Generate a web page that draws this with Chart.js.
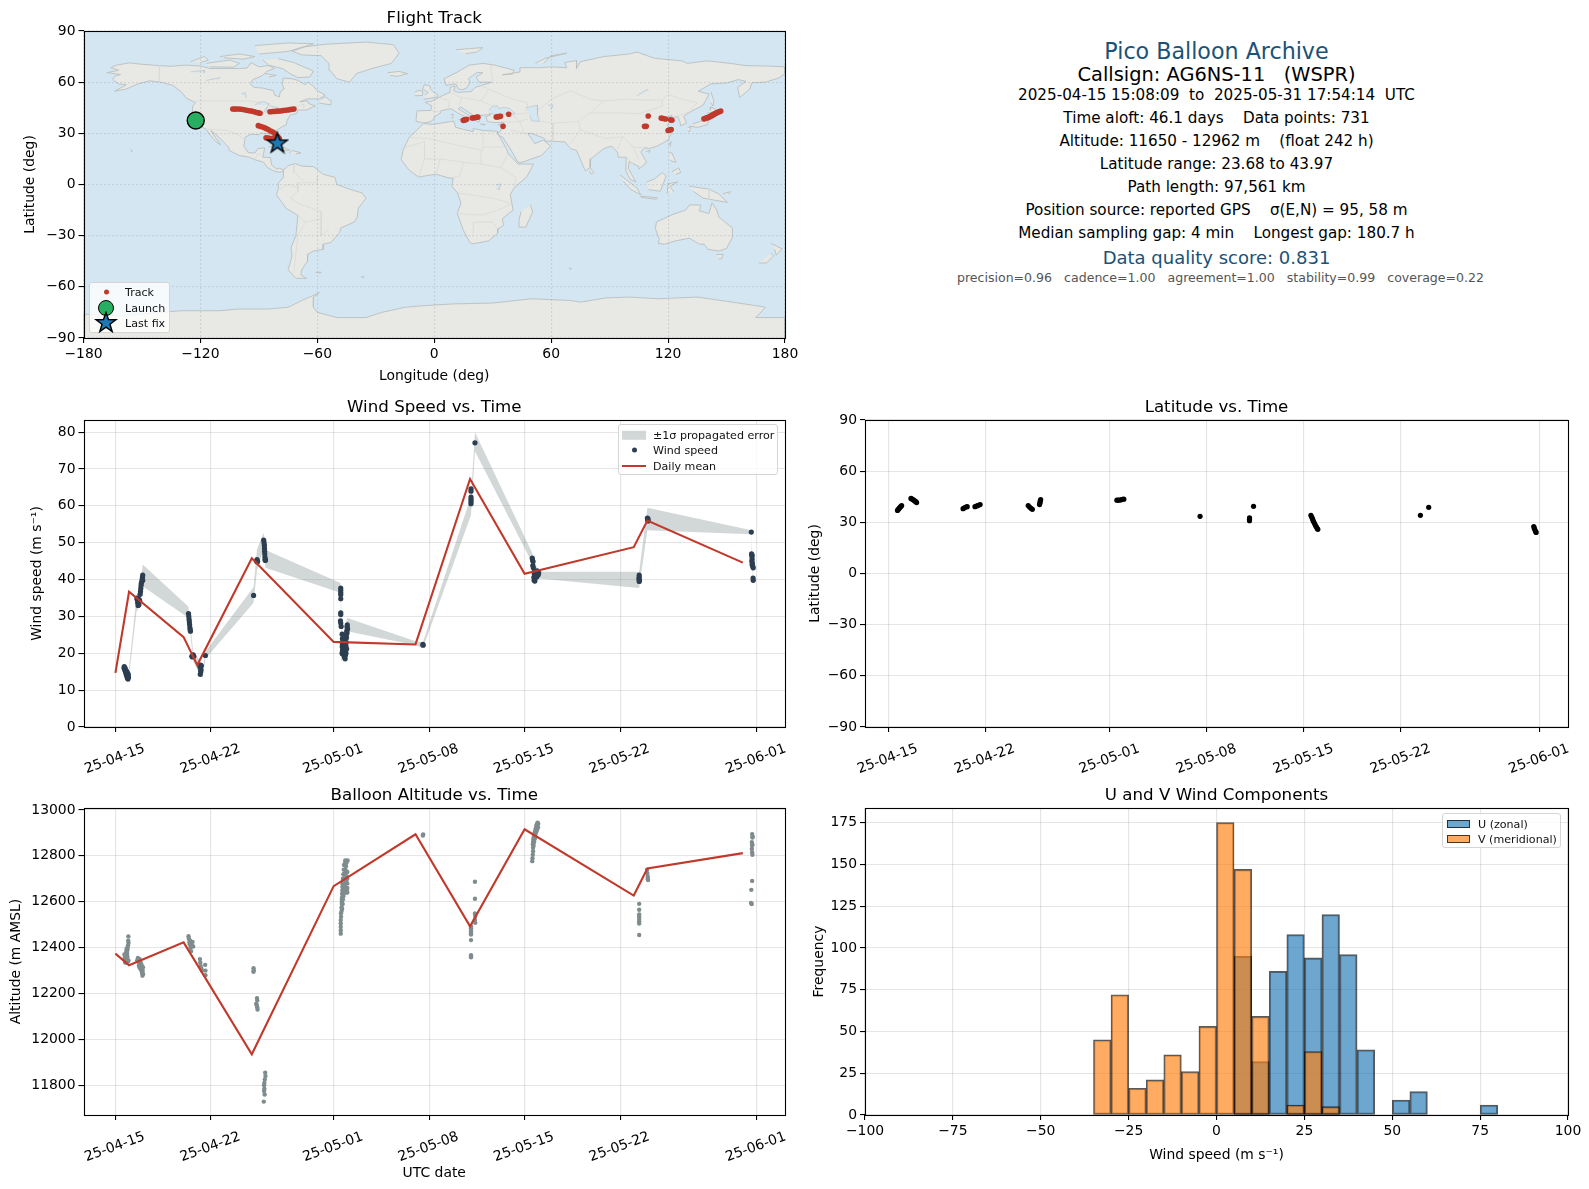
<!DOCTYPE html>
<html>
<head>
<meta charset="utf-8">
<title>Pico Balloon Archive</title>
<script src="https://cdn.jsdelivr.net/npm/chart.js@4"></script>
<style>
  body { margin: 0; background: #fff; font-family: "DejaVu Sans", sans-serif; }
  #page { position: relative; width: 1589px; height: 1189px; overflow: hidden; }
  canvas { position: absolute; display: block; }
  .info { position: absolute; left: 865px; width: 703px; text-align: center; white-space: pre; transform: translateY(-50%); }
  .legend { position: absolute; box-sizing: border-box; background: rgba(255,255,255,0.8); border: 1px solid #d5d5d5; border-radius: 3px; font-size: 11.1px; color: #111; }
  .legend div { position: absolute; white-space: pre; transform: translateY(-50%); }
</style>
</head>
<body>
<div id="page"></div>
<script>
// x values on the time panels are days since 2025-04-15 00:00 UTC
const dateTicks = [0, 7, 16, 23, 30, 37, 47];
const dateLabels = ['25-04-15', '25-04-22', '25-05-01', '25-05-08', '25-05-15', '25-05-22', '25-06-01'];

const lonTicks = [-180, -120, -60, 0, 60, 120, 180];
const latTicks = [-90, -60, -30, 0, 30, 60, 90];
const windTicks = [0, 10, 20, 30, 40, 50, 60, 70, 80];
const altTicks = [11800, 12000, 12200, 12400, 12600, 12800, 13000];
const histXTicks = [-100, -75, -50, -25, 0, 25, 50, 75, 100];
const histYTicks = [0, 25, 50, 75, 100, 125, 150, 175];

const meanDays = [0, 1, 5, 6, 10, 16, 22, 26, 30, 38, 39, 46];
const windMean = [14.7, 36.7, 24.4, 16.8, 45.8, 23.1, 22.4, 67.3, 41.6, 48.8, 56, 44.6];
const altMeanDays = [0, 1, 5, 10, 16, 22, 26, 30, 38, 39, 46];
const altMean = [12374, 12323, 12423, 11935, 12668, 12894, 12493, 12916, 12627, 12745, 12812];

// day, upper, lower of the 1 sigma band
const windBand = [
  [0.63, 16.8, 15.6], [0.95, 14.5, 12.3], [1.55, 35.5, 31.5], [1.6, 36, 31.5], [1.87, 40, 34], [2, 44.1, 38.2],
  [5.36, 32.6, 29.6], [5.5, 27.5, 25], [5.7, 20.5, 18], [6.2, 18, 14], [6.4, 16, 13.3], [6.6, 20.5, 18.5],
  [10.13, 38, 33.7], [10.38, 48.2, 42.5], [10.87, 52.7, 48.5], [11, 48, 43.2], [16.5, 39.1, 36.4], [16.55, 33, 25],
  [16.6, 24, 18], [17, 29.6, 26], [22, 23.3, 22.2], [22.54, 22.9, 21.4], [26.07, 62.6, 57.5], [26.36, 80, 74.8],
  [30.56, 47.2, 44.5], [30.7, 45, 38.5], [31.05, 42.1, 40.3], [38.4, 42.1, 37.7], [39, 59.5, 53.4],
  [46.62, 53.4, 52.3], [46.65, 48, 45.5], [46.77, 44, 39]
];

const windPoints = [
  [.63, 16], [.65, 16.4], [.68, 15.8], [.7, 15.3], [.72, 15.9], [.75, 15], [.78, 14.6], [.8, 14.2], [.83, 14.5], [.85, 13.8],
  [.87, 13.4], [.89, 13.9], [.9, 13.2], [.92, 13], [.94, 13.4], [.95, 13.6], [.9, 14.6], [.94, 14.2], [.82, 15.2],
  [1.57, 35], [1.6, 34.5], [1.63, 33.8], [1.66, 33], [1.69, 33.4], [1.72, 34], [1.75, 34.5], [1.78, 34.2], [1.81, 36], [1.84, 36.8],
  [1.86, 37.6], [1.88, 38.4], [1.9, 39], [1.93, 39.4], [1.96, 40], [1.98, 40.6], [2, 41.2], [2, 39.8], [1.66, 34.8], [1.72, 33.2],
  [5.36, 30.8], [5.38, 30], [5.4, 29.2], [5.42, 28.5], [5.44, 27.8], [5.46, 27], [5.48, 26.4], [5.5, 26],
  [5.6, 19.2], [5.65, 19], [5.7, 19.6], [5.75, 19.2],
  [6.2, 16.3], [6.25, 16.8], [6.3, 16.6], [6.27, 15.5], [6.25, 15], [6.22, 14.3], [6.6, 19.4],
  [10.13, 35.7], [10.35, 45], [10.38, 45.4], [10.42, 45], [10.4, 44.8],
  [10.87, 50.7], [10.9, 50], [10.92, 49.3], [10.93, 48.5], [10.94, 47.7], [10.95, 47], [10.96, 46.2], [10.97, 45.5], [10.99, 45.2], [11, 45.4],
  [16.52, 37.7], [16.52, 37.1], [16.52, 36.4], [16.52, 35.9], [16.52, 34.8], [16.52, 31], [16.52, 30.5], [16.5, 28.8], [16.52, 28.2], [16.55, 27.3],
  [16.62, 25.2], [16.64, 24], [16.62, 23], [16.65, 22.4], [16.63, 21.8], [16.66, 21], [16.64, 20.4], [16.62, 20], [16.66, 19.8],
  [16.7, 22.5], [16.72, 21.6], [16.74, 20.8], [16.72, 20.2], [16.78, 19.5], [16.8, 18.9], [16.84, 18.5], [16.86, 19.5], [16.88, 20.6],
  [16.9, 22], [16.92, 23], [16.94, 24.2], [16.93, 25], [16.96, 26], [16.98, 27.2], [17, 27.7], [17.02, 26.6], [16.98, 25.5], [16.86, 24],
  [16.8, 21.5], [16.84, 22.6], [16.76, 23.4], [16.9, 20], [16.95, 21.2],
  [22.54, 22.4], [22.56, 22.2],
  [26.07, 64.6], [26.07, 64], [26.07, 62.4], [26.07, 61.8], [26.07, 61.2], [26.07, 60.6], [26.36, 77.1],
  [30.56, 45.8], [30.58, 45.3], [30.62, 44.9], [30.6, 43.8], [30.64, 43.2], [30.7, 42], [30.72, 41.4], [30.74, 40.8], [30.76, 40.2], [30.7, 39.8],
  [30.68, 40.6], [30.8, 41.2], [30.84, 42], [30.88, 41.6], [30.92, 42.4], [30.96, 41.5], [31, 41.3], [31.03, 41.8], [30.75, 39.6], [30.9, 40.8],
  [38.4, 41.2], [38.4, 40.6], [38.38, 40.2], [38.42, 39.8], [38.4, 39.5],
  [39, 56.7], [39.02, 56.2], [39.05, 56.5], [39.06, 55.9], [46.62, 52.9],
  [46.64, 47], [46.66, 46.4], [46.68, 46.6], [46.68, 45.6], [46.66, 45], [46.7, 44.4], [46.68, 44], [46.72, 43.6], [46.76, 43.2], [46.75, 40.4], [46.76, 39.8]
];

const altPoints = [
  [.66, 12370], [.68, 12355], [.7, 12345], [.72, 12335], [.74, 12360], [.76, 12375], [.78, 12340], [.8, 12385], [.82, 12395], [.84, 12335],
  [.86, 12375], [.88, 12390], [.9, 12400], [.92, 12410], [.94, 12430], [.95, 12449], [.96, 12420], [.95, 12345], [.93, 12340], [.72, 12365], [.8, 12350], [.88, 12360],
  [1.6, 12345], [1.65, 12355], [1.7, 12340], [1.72, 12320], [1.75, 12330], [1.78, 12350], [1.8, 12310], [1.85, 12335], [1.9, 12300],
  [1.92, 12325], [1.95, 12290], [1.98, 12278], [2, 12300], [2.03, 12285], [2.02, 12315], [1.72, 12345], [1.85, 12315],
  [5.36, 12450], [5.38, 12440], [5.42, 12425], [5.45, 12415], [5.48, 12430], [5.5, 12400], [5.55, 12385], [5.6, 12410], [5.65, 12425], [5.7, 12405],
  [6.2, 12350], [6.22, 12335], [6.25, 12320], [6.3, 12310], [6.35, 12300], [6.6, 12280], [6.6, 12300], [6.58, 12325],
  [10.13, 12310], [10.14, 12300], [10.12, 12295],
  [10.38, 12180], [10.4, 12170], [10.32, 12155], [10.36, 12150], [10.4, 12140], [10.42, 12130],
  [10.98, 11855], [11, 11840], [10.95, 11825], [10.92, 11810], [10.9, 11800], [10.92, 11785], [10.9, 11775], [10.94, 11760], [10.88, 11729],
  [16.52, 12461], [16.52, 12475], [16.52, 12490], [16.52, 12505], [16.52, 12520], [16.54, 12535], [16.54, 12550],
  [16.58, 12560], [16.58, 12575], [16.6, 12590], [16.6, 12600], [16.6, 12610], [16.62, 12620], [16.62, 12635], [16.64, 12650], [16.64, 12665], [16.64, 12680],
  [16.7, 12640], [16.7, 12660], [16.7, 12680], [16.72, 12700], [16.74, 12720], [16.74, 12740], [16.76, 12760], [16.85, 12770], [16.85, 12780],
  [16.9, 12640], [16.9, 12660], [16.9, 12700], [16.9, 12730], [17, 12640], [17, 12660], [17, 12680], [17, 12700], [17.02, 12780], [17, 12730],
  [16.62, 12570], [16.66, 12590], [16.68, 12610], [16.72, 12625], [16.76, 12640], [16.8, 12650], [16.84, 12665], [16.88, 12680], [16.92, 12690], [16.96, 12710],
  [16.68, 12700], [16.72, 12720], [16.78, 12700], [16.82, 12720], [16.86, 12740], [16.9, 12755], [16.94, 12770], [16.8, 12680], [16.76, 12660], [16.96, 12650],
  [22.54, 12889], [22.56, 12893],
  [26.07, 12493], [26.07, 12485], [26.07, 12477], [26.07, 12470], [26.07, 12462], [26.07, 12457], [26.07, 12433], [26.07, 12367], [26.07, 12358],
  [26.36, 12687], [26.36, 12613], [26.36, 12549], [26.38, 12538], [26.36, 12522], [26.38, 12508],
  [30.56, 12777], [30.58, 12790], [30.6, 12805], [30.62, 12820], [30.62, 12835], [30.6, 12850], [30.62, 12860], [30.64, 12870], [30.66, 12880], [30.7, 12890],
  [30.74, 12900], [30.78, 12910], [30.82, 12920], [30.86, 12930], [30.9, 12938], [30.95, 12945], [31, 12940], [30.98, 12925], [30.75, 12875], [30.8, 12895],
  [30.7, 12860], [30.66, 12845], [30.78, 12885], [30.86, 12905], [30.92, 12915],
  [38.4, 12591], [38.4, 12565], [38.4, 12545], [38.4, 12535], [38.4, 12525], [38.4, 12515], [38.4, 12505], [38.4, 12455],
  [38.98, 12740], [39, 12725], [39.03, 12710], [39.05, 12695], [39.02, 12700],
  [46.68, 12895], [46.7, 12880], [46.72, 12885], [46.66, 12860], [46.68, 12845], [46.7, 12850], [46.66, 12830], [46.68, 12815], [46.7, 12805],
  [46.68, 12691], [46.62, 12652], [46.6, 12595], [46.65, 12590]
];

const latPoints = [
  [.67, 37], [.72, 37.5], [.77, 38], [.82, 38.5], [.87, 39], [.92, 39.4], [.97, 39.8],
  [1.64, 44], [1.7, 43.8], [1.76, 43.4], [1.82, 43.2], [1.88, 42.8], [1.94, 42.4], [2, 42], [2.05, 41.6],
  [5.4, 38], [5.5, 38.5], [5.6, 39], [5.7, 39.2], [6.26, 39.2], [6.4, 39.6], [6.5, 40], [6.63, 40.4],
  [10.1, 39.8], [10.2, 39], [10.3, 38.2], [10.4, 37.6],
  [10.92, 40.4], [10.94, 41.2], [10.96, 42], [10.98, 42.8], [11, 43.4],
  [16.5, 43], [16.6, 43], [16.7, 43.1], [16.8, 43.2], [16.9, 43.5], [17, 43.6],
  [22.5, 33.5], [26.07, 32.6], [26.07, 31.8], [26.07, 31], [26.36, 39.4],
  [30.5, 34.1], [30.56, 33], [30.62, 32], [30.66, 31], [30.72, 30], [30.78, 29], [30.84, 28], [30.9, 27.2], [30.96, 26.4], [31, 25.9],
  [38.4, 34.1], [39, 38.8],
  [46.58, 27.5], [46.62, 26.6], [46.66, 25.6], [46.72, 24.6], [46.75, 24.1]
];

const trackLon = [
  -103.4, -102.4, -101.4, -100.1, -98.8, -97.5, -96.2, -95, -93.7, -92.3, -91, -90.2, -89.4,
  -84.3, -83, -81.7, -80.4, -79.2, -77.9, -76.6, -75.3, -74, -73, -72,
  -90.3, -89, -87.7, -86.4, -85.2, -83.9, -82.6, -81.7, -80.9, -80.2, -79.5, -86.3, -85, -83.4, -82, -81,
  14.9, 15.2, 15.5, 16, 16.6, 19.5, 20.2, 21, 21.7, 22.4, 31.8, 32.4, 33, 33.5, 34, 38.2, 35.3,
  107.9, 108.8, 109.8, 116.5, 117.5, 118.7, 121.2, 122, 120, 120.6, 121.6,
  138.4, 139, 139.5, 140, 140.5, 141, 141.5, 142, 142.5, 143, 143.5, 144, 144.5, 145, 145.5, 146.2, 147
];
const trackLat = [
  44.3, 44.3, 44.3, 44.2, 44.1, 43.8, 43.5, 43.2, 43, 42.6, 42.2, 42, 41.8,
  42.7, 42.8, 42.9, 43, 43.1, 43.3, 43.5, 43.7, 43.9, 44.1, 44.3,
  34.5, 34, 33.5, 32.9, 32.2, 31.4, 30.6, 29.6, 28.6, 27.8, 27, 27.4, 27.2, 27, 26.8, 26.6,
  37.6, 37.7, 37.8, 38, 38.2, 39, 39.1, 39.2, 39.4, 39.5, 39.6, 39.7, 39.8, 39.9, 40, 41.2, 34.1,
  34.1, 34.1, 40.2, 38.9, 38.7, 38.4, 37.9, 37.7, 31.7, 31.9, 32.2,
  38.5, 38.7, 38.9, 39.1, 39.3, 39.6, 39.9, 40.2, 40.5, 40.8, 41.1, 41.5, 41.8, 42.1, 42.4, 42.7, 43
];
const launchLon = [-122.4];
const launchLat = [37.5];
const lastLon = [-80.5];
const lastLat = [24.1];

const histCenters = [-32.5, -27.5, -22.5, -17.5, -12.5, -7.5, -2.5, 2.5, 7.5, 12.5, 17.5, 22.5, 27.5, 32.5, 37.5, 42.5, 47.5, 52.5, 57.5, 62.5, 67.5, 72.5, 77.5];
const uCounts = [0, 0, 0, 0, 0, 0, 0, 0, 95, 32, 86, 108, 94, 120, 96, 39, 0, 9, 14, 0, 0, 0, 6];
const vCounts = [45, 72, 16, 21, 36, 26, 53, 175, 147, 59, 0, 6, 38, 5, 0, 0, 0, 0, 0, 0, 0, 0, 0];

// coarse coastlines as [lon, lat]
const northAmerica = [[-168,65.6],[-164,66.5],[-162,67],[-166,68.5],[-163,70],[-156.5,71.3],[-150,70.5],[-141,69.7],[-135,69.3],[-128,70],[-120,69.5],[-115,68],[-108,68],[-100,68],[-96,68.3],[-94,71.5],[-90,69],[-85,69.7],[-82,68],[-86,66.3],[-88,64],[-93,61.5],[-94.5,59],[-92.5,57],[-88,56.5],[-82.5,55],[-82,52.5],[-79.5,51.3],[-79,54.5],[-77,56],[-78,58.5],[-77.5,62.4],[-73,62],[-70,61],[-66,58.5],[-65,60.2],[-62,57.5],[-60,55],[-56,52.5],[-59,50.2],[-65,50.2],[-69,48.5],[-65,49],[-64.5,47.5],[-61,46],[-65.5,43.7],[-70,43.7],[-70.5,41.7],[-74,40.6],[-75.5,37.5],[-76,35],[-78,33.9],[-81,31.8],[-80,27],[-80.5,25.2],[-82,26.5],[-83,29],[-85,29.7],[-89,30.2],[-90,29.2],[-94,29.5],[-97,27.8],[-97.7,22.5],[-95.5,18.7],[-92,18.5],[-90.5,21],[-87,21.5],[-88,16],[-84,15.8],[-83.5,11.5],[-81,9],[-79.5,9.5],[-77.3,8.6],[-78,7.3],[-80.5,7.3],[-83,8.3],[-85.7,10],[-87.5,13],[-92,14.5],[-95,16],[-100,17],[-105,19.8],[-105.7,22],[-109,26],[-112.7,30],[-114.7,31.5],[-112,27],[-109.5,23.2],[-112,25],[-115,29],[-117.2,32.5],[-120.5,34.5],[-122.5,37.5],[-124.2,40.5],[-124,46],[-122.5,48],[-127,50.5],[-130,54.5],[-134,58],[-139.5,59.8],[-146,60.8],[-152,59],[-158,56],[-164,54.7],[-158,58.5],[-162,59],[-165,61.5],[-164,63.5],[-161,64.5],[-168,65.6]];
const southAmerica = [[-77.3,8.6],[-75,11],[-71.5,12.3],[-68,10.8],[-62,10.5],[-57,6],[-51,4.2],[-50,0],[-44,-2.5],[-37,-5],[-35,-8],[-39,-14],[-39.5,-19],[-41,-22],[-48,-25.5],[-48.5,-28],[-53,-34],[-57,-35],[-57,-38],[-62,-39],[-65,-41],[-65,-45],[-68,-50],[-68.5,-53],[-65.5,-55],[-71,-55],[-75,-50],[-73,-42],[-73.5,-37],[-71,-30],[-70,-18],[-76,-14],[-81,-6],[-80,-2.5],[-80,1],[-77.5,4],[-77.5,7.3],[-77.3,8.6]];
const greenland = [[-73,78.2],[-66,80.8],[-55,82.3],[-35,83.5],[-21,82],[-18,77],[-22,71],[-32,68],[-40,65],[-43.5,60],[-50,62],[-53.5,67],[-54,71],[-58,75.5],[-68,76],[-73,78.2]];
const africa = [[-5.5,35.8],[-1,35.2],[10,37.2],[11,33.5],[15,32.3],[20,31],[20,32.8],[25,31.7],[32.3,31.2],[32.5,30],[34,27],[37,21],[38,18],[43,12],[51,12],[47.5,4.5],[41,-2],[39,-6],[40.5,-15],[35,-20],[35.5,-24],[32.7,-26],[32.5,-28.5],[28,-33],[20,-34.8],[18.3,-34],[15,-27],[11.8,-17],[13.7,-11],[12,-5],[9,-1],[9.7,3.5],[6,4.3],[1,6],[-4,5.2],[-8,4.3],[-13,8.5],[-17,14.7],[-16,20],[-13,27.5],[-9.7,31],[-5.5,35.8]];
const eurasia = [[-5.5,36],[-9,37],[-9.3,38.7],[-8.8,43.2],[-1.8,43.4],[-1.2,46],[-4.7,48.3],[-1.5,48.7],[1.5,50.5],[4,52],[8,54],[8.2,57],[10.7,57.7],[10,55],[12,54],[19,54.5],[21,57],[24,58],[29.5,60],[23,60],[21.5,63],[25,65.5],[22,65.7],[17.5,62],[18.5,60],[16.5,56.5],[14,55.5],[12.5,56],[11,59],[6,58.2],[5,62],[12,66],[18,70],[25,71],[31,70],[41,67],[40,64.7],[35,64.3],[44,66],[44,68.5],[54,68.5],[60,69],[68,68.5],[67,71.5],[73,72.7],[73,68],[75,72],[81,73.5],[87,75],[100,76.5],[104,77.7],[113,74],[127,72.5],[130,71],[140,72.5],[152,71],[160,69.7],[170,69.5],[180,69],[180,65],[177,62.5],[170,60],[163,59.7],[162,56],[156.7,51],[155.7,57],[160,60.5],[156,61.5],[150,59.5],[142,59],[135.5,54.7],[141,53],[138,46.5],[132,43],[128,40],[129.5,36],[126.5,34.5],[126,37],[125,39.7],[121.5,39],[122,40.5],[118,39],[122,37.5],[119.5,35],[122,31],[120,26],[114,22.3],[110,21],[108,21.7],[106,19],[109,13],[105,9],[105,10.5],[100,13.5],[99.5,9.5],[103.5,1.5],[100.5,3],[98.3,8],[98.5,16],[94.5,16],[94,19],[91,22.5],[87,21],[80.3,15],[80,10],[77.5,8],[73,20],[70,21],[67,25],[57,25.5],[56.5,27],[50,30],[48,30],[51,25],[51.5,24],[56,26],[59.7,22.5],[55,17],[45,13],[43,13],[39,21],[35,28],[34.2,28],[32.5,30],[34,31.3],[35.9,36.5],[30.5,36.3],[27.3,37],[26.5,39.5],[29,41],[26,40.7],[23,40.5],[23.5,38],[22.7,36.5],[21,38],[19.5,41],[13.5,45.5],[12.3,44.5],[16,41.7],[18.5,40],[16.5,39],[15.7,38],[15.7,40],[12,42],[8.7,44.4],[3.5,43.3],[3,41.7],[0,39.7],[-0.5,38],[-2,36.8],[-5.5,36]];
const antarctica = [[-180,-90],[-180,-76],[-160,-77],[-150,-76],[-130,-74],[-110,-74],[-100,-73],[-85,-73],[-75,-72],[-68,-68],[-59,-63.5],[-62,-66],[-62,-72],[-60,-75],[-50,-78],[-35,-78],[-27,-75],[-15,-72],[-5,-71],[10,-70],[30,-69.5],[50,-67],[70,-68],[75,-69],[88,-66.5],[100,-66],[115,-67],[135,-66],[150,-68.5],[165,-71],[170,-72],[165,-78],[180,-78],[180,-90]];
const australia = [[114,-22],[113.5,-26],[115.5,-32],[115,-34.5],[118,-35],[124,-33],[131,-31.5],[136,-35],[138.5,-35],[140.5,-38],[146,-39],[150,-37.5],[153,-31],[153,-25.5],[146,-19],[145,-15],[142.5,-10.8],[141,-17],[136,-15.5],[136.8,-12],[131,-12],[129,-15],[122.5,-17.5],[114,-22]];
const islands = [
  [[-80,73.7],[-72,71.5],[-62,66.5],[-64,63],[-70,62.7],[-74,65],[-78,68],[-85,70],[-88,73]],
  [[-117,71],[-105,73],[-100,71],[-103,68.8],[-115,69]],
  [[-125,72],[-118,75],[-116,73],[-120,71.5]],
  [[-90,76.5],[-75,78],[-62,82.5],[-75,83],[-92,81.5]],
  [[-110,75],[-100,76.5],[-92,75],[-98,73.5],[-108,74.3]],
  [[-87,65],[-81,64],[-85,63]],
  [[-59,47.7],[-53,46.7],[-53,49],[-56,51.5],[-58,50]],
  [[-85,22],[-80,23.1],[-74.2,20.2],[-77.5,19.9],[-78,21]],
  [[-74.4,18.5],[-72.7,19.9],[-68.4,18.6],[-71,18]],
  [[-78.3,18.4],[-76.3,18.1],[-77,17.8]],
  [[-156,20.3],[-155,19.7],[-155.7,19]],
  [[-5.5,50],[1.5,51.2],[1.7,52.8],[-0.3,54],[-2,56],[-2,57.7],[-5,58.6],[-6,56],[-3,54],[-4.7,52.5]],
  [[-10,52],[-6,52.2],[-6,55],[-8.5,55],[-10,54]],
  [[-24,65.5],[-18,66.3],[-13.7,65],[-19,63.4],[-22.7,64]],
  [[11,79],[25,80.3],[22,77.7],[16,76.7]],
  [[52,71],[57,74],[68,77],[60,75.5],[56,71]],
  [[12.5,38],[15.5,38.2],[15,36.7]],
  [[8.3,41],[9.7,41],[9.5,39],[8.5,39]],
  [[23.5,35.5],[26.3,35.2],[24.5,34.9]],
  [[32.5,35],[34.5,35.6],[33.8,34.7]],
  [[130.9,34.3],[135,33.5],[140,35],[141.9,39.5],[141.3,41.4],[140,40.5],[139,38],[136.7,37],[132.5,35.5]],
  [[140,41.7],[145.5,43.3],[142,45.5],[141.7,43.5]],
  [[130,33.5],[131.7,33.7],[131,31],[130.2,31.3]],
  [[142,54.3],[143.5,49],[143,46],[142,48]],
  [[120.2,23],[121.5,25.2],[121,22]],
  [[108.7,19.3],[110.8,20],[110,18.3]],
  [[120.5,18.5],[122,18.5],[124,13],[121,14]],
  [[122,7.5],[125.5,9.7],[126.5,7],[124,6]],
  [[109,1.5],[113,3.2],[117,7],[119,5],[117.7,1],[116,-4],[110,-3]],
  [[95.3,5.6],[104,-2],[106,-6],[101,-3],[97,2]],
  [[105.5,-6.8],[114.5,-7.8],[114,-8.7],[106,-7.5]],
  [[119.5,-5.5],[120,0.5],[125,1.5],[121,-1],[123,-4.5]],
  [[131,-1],[141,-2.7],[146,-5.5],[150.5,-10.5],[143,-9],[138,-8],[133,-4]],
  [[148,-5.5],[152,-4.2],[151,-6]],
  [[144.7,-41],[148.3,-41],[147.5,-43.5],[146,-43.5]],
  [[172.7,-34.5],[178.5,-37.7],[175.5,-41.5],[174.7,-38]],
  [[172.7,-40.5],[174.3,-41.7],[170.5,-46],[166.5,-46]],
  [[49.3,-12],[50.5,-16],[47,-25],[44,-25],[43.5,-21],[44.5,-16]],
  [[80,9.7],[82,7],[80.5,6],[79.7,8]],
  [[-61,-51.5],[-58,-51.5],[-59,-52.3]],
  [[69,-49],[70.5,-49.3],[69.5,-49.8]],
  [[-37.5,-54],[-36,-54.2],[-37,-54.7]]
];
const lakes = [
  [[-92,46.8],[-88,48.7],[-85,47.5],[-85,46.5]],
  [[-87.7,42],[-85.5,45.8],[-86.5,42]],
  [[-84,46],[-80,45],[-81.7,43.2]],
  [[-83,41.6],[-79,42.8],[-79,42.5]],
  [[-79.5,43.3],[-76.3,44],[-76.3,43.4]],
  [[-125,66],[-118,67],[-118,65.5]],
  [[-117,61],[-110,62.7],[-111,61.5]],
  [[-99,53],[-97,54],[-96.5,50.8]],
  [[28,41.7],[31,41.2],[36,41.3],[41.5,41.6],[39,44.3],[37.5,45],[35.5,45.2],[33,44.5],[32.5,46],[30,46],[28,43.5]],
  [[47,45],[53,46.5],[53,41],[54,37],[50,37.3],[49,40.5]],
  [[58.5,46.5],[61,46.5],[60,44]],
  [[104,52],[109,55.7],[110,55]],
  [[32,0],[34,0.3],[33.5,-3],[32,-2.5]]
];
const borders = [
  [[-141,69.7],[-141,60]], [[-123,49],[-95,49],[-88,48],[-82,45],[-79,43],[-75,45],[-70,46],[-67,47.2],[-67,45]],
  [[-117,32.5],[-106,31.7],[-101,29.5],[-97.3,26]], [[-92,14.5],[-91,17.5],[-89,18]],
  [[-70,-18],[-66,-22],[-70,-30],[-71,-40],[-72,-52]], [[-58,-20],[-58,-30],[-54,-26]], [[-70,-11],[-58,-16],[-58,-20],[-66,-22]],
  [[-60,5],[-60,1],[-70,1],[-70,-4],[-74,-8],[-70,-11]], [[-72,12],[-72,7],[-67,2]], [[-80,-3],[-75,0],[-70,-2]],
  [[-13,27.5],[-3,27],[12,23],[25,20],[25,31.7]], [[25,22],[37,22]], [[-17,21],[-5,25],[-5,15],[3,15],[15,13],[24,12],[24,20]],
  [[15,13],[13,5],[9,4]], [[24,12],[34,10],[42,4],[41,-2]], [[12,-5],[30,-8],[39,-11]], [[12,-17],[24,-18],[33,-15],[40,-11]], [[20,-29],[20,-22],[30,-22],[32.5,-26]],
  [[34,10],[38,18]], [[1,6],[3,15]], [[-8,4.5],[-5,15]],
  [[-1.8,43.4],[3,42.5]], [[3,50.8],[8,49],[7,44]], [[8,54],[14,51],[24,49],[30,46]], [[14,51],[13,46.5]], [[24,58],[28,56],[24,49]],
  [[29,70],[30,60]], [[28,56],[40,50],[48,48],[47,43]], [[48,42],[40,41],[44,37],[36,36.5]], [[44,37],[46,30],[48,30]], [[39,32],[46,30]], [[44,37],[48,38.5]],
  [[54,37],[61,36],[61,26]], [[61,36],[74,37],[75,32],[70,24]], [[75,32],[80,30],[88,27],[97,28],[94,21]], [[97,28],[102,22],[107,21.5]], [[102,22],[105,15]], [[98.5,16],[102,12]],
  [[52,42],[60,50],[70,55],[80,50],[87,49],[98,50],[108,49.5],[117,49.5],[120,53],[127,50],[135,48],[131,43]], [[80,42],[87,49]], [[74,37],[80,42],[96,42],[105,41.5],[117,46],[117,49.5]],
  [[124.5,40],[130.5,42.5]], [[141,-2.7],[141,-9]]
];
const landShapes = [northAmerica, southAmerica, greenland, africa, eurasia, antarctica, australia].concat(islands);

// colours from the reference
const oceanColor = '#d4e6f1';
const landColor = '#e8e8e4';
const coastColor = '#b9bfc1';
const borderColor = '#d9d9d5';
const trackRed = '#c0392b';
const darkDot = '#2c3e50';
const grayDot = '#7f8c8d';
const bandFill = 'rgba(127,140,141,0.35)';
const softGrid = 'rgba(176,176,176,0.33)';
const mapGrid = 'rgba(90,100,110,0.16)';
const tickFont = { family: 'DejaVu Sans', size: 13.9 };
const labelFont = { family: 'DejaVu Sans', size: 13.9, lineHeight: 1.2 };
const titleFont = { family: 'DejaVu Sans', size: 16.67, weight: 'normal', lineHeight: 1.2 };

const page = document.getElementById('page');

// frame on all four sides and optional plot background
const framePlugin = {
  id: 'frame',
  beforeDraw(chart, args, opts) {
    if (!opts.background) return;
    const a = chart.chartArea;
    chart.ctx.fillStyle = opts.background;
    chart.ctx.fillRect(a.left, a.top, a.width, a.height);
  },
  afterDraw(chart) {
    const a = chart.chartArea;
    const x0 = Math.round(a.left) + 0.5;
    const y0 = Math.round(a.top) + 0.5;
    chart.ctx.save();
    chart.ctx.strokeStyle = '#000';
    chart.ctx.lineWidth = 1.1;
    chart.ctx.strokeRect(x0, y0, Math.round(a.right) - Math.round(a.left), Math.round(a.bottom) - Math.round(a.top));
    chart.ctx.restore();
  }
};

function fixedTicks(values) {
  return axis => { axis.ticks = values.map(v => ({ value: v })); };
}

function xAxis(cfg) {
  const rotated = !!cfg.labels;
  return {
    type: 'linear',
    min: cfg.min,
    max: cfg.max,
    offset: false,
    afterBuildTicks: fixedTicks(cfg.ticks),
    afterFit: s => { s.height = cfg.height; },
    grid: { offset: false, color: cfg.gridColor || softGrid, lineWidth: 1.1, tickColor: '#000', tickLength: 5, tickWidth: 1.1, z: cfg.gridZ || 0 },
    border: { display: false, dash: cfg.dash || [] },
    ticks: {
      font: tickFont,
      color: '#000',
      autoSkip: false,
      padding: rotated ? 8.5 : 3,
      maxRotation: rotated ? 20 : 0,
      minRotation: rotated ? 20 : 0,
      labelOffset: rotated ? 29 : 0,
      callback: v => {
        if (rotated) return cfg.labels[cfg.ticks.indexOf(v)];
        return String(v).replace('-', '\u2212');
      }
    },
    title: { display: !!cfg.title, text: cfg.title, font: labelFont, color: '#000', padding: 0 }
  };
}

function yAxis(cfg) {
  return {
    type: 'linear',
    min: cfg.min,
    max: cfg.max,
    afterBuildTicks: fixedTicks(cfg.ticks),
    afterFit: s => { s.width = cfg.width; },
    grid: { color: cfg.gridColor || softGrid, lineWidth: 1.1, tickColor: '#000', tickLength: 5, tickWidth: 1.1, z: cfg.gridZ || 0 },
    border: { display: false, dash: cfg.dash || [] },
    ticks: {
      font: tickFont,
      color: '#000',
      autoSkip: false,
      padding: 3,
      callback: v => String(v).replace('-', '\u2212')
    },
    title: { display: true, text: cfg.title, font: labelFont, color: '#000', padding: { top: cfg.labelPad, bottom: 0 } }
  };
}

// places a canvas so that the plot area lands on the wanted box
function makePanel(box, config) {
  const canvas = document.createElement('canvas');
  const width = box.right - box.canvasLeft + box.padRight;
  const height = 30 + (box.bottom - box.top) + box.axisHeight;
  canvas.width = width;
  canvas.height = height;
  canvas.style.left = box.canvasLeft + 'px';
  canvas.style.top = (box.top - 30) + 'px';
  page.appendChild(canvas);
  config.options.responsive = false;
  config.options.animation = false;
  config.options.layout = { autoPadding: false, padding: { right: box.padRight } };
  config.options.plugins = Object.assign({
    legend: { display: false },
    tooltip: { enabled: false },
    title: {
      display: true, text: box.title, font: titleFont, color: '#000', fullSize: false,
      padding: { top: 8, bottom: 2 }
    }
  }, config.options.plugins || {});
  config.plugins = [framePlugin];
  return new Chart(canvas, config);
}

function pairs(list, yIndex) {
  return list.map(p => ({ x: p[0], y: p[yIndex] }));
}

function outline(shape) {
  return shape.map(p => ({ x: p[0], y: p[1] }));
}

function zip(xs, ys) {
  return xs.map((x, i) => ({ x: x, y: ys[i] }));
}

// filled five point star used as the last fix marker
function starCanvas(size, fill) {
  const c = document.createElement('canvas');
  c.width = size;
  c.height = size;
  const ctx = c.getContext('2d');
  const r = size / 2 - 1.5;
  ctx.beginPath();
  for (let i = 0; i < 10; i++) {
    const rad = i % 2 ? r * 0.4 : r;
    const ang = -Math.PI / 2 + i * Math.PI / 5;
    ctx.lineTo(size / 2 + rad * Math.cos(ang), size / 2 + rad * Math.sin(ang));
  }
  ctx.closePath();
  ctx.fillStyle = fill;
  ctx.fill();
  ctx.strokeStyle = '#000';
  ctx.lineWidth = 1.4;
  ctx.stroke();
  return c;
}

function addLegend(left, top, width, height, items) {
  const box = document.createElement('div');
  box.className = 'legend';
  box.style.cssText = `left:${left}px;top:${top}px;width:${width}px;height:${height}px`;
  items.forEach(item => {
    const label = document.createElement('div');
    label.textContent = item.text;
    label.style.left = item.textX + 'px';
    label.style.top = item.y + 'px';
    box.appendChild(label);
    if (item.marker) {
      const mark = item.marker;
      mark.style.position = 'absolute';
      mark.style.left = (item.markX - mark.width / 2) + 'px';
      mark.style.top = (item.y - mark.height / 2) + 'px';
      box.appendChild(mark);
    } else {
      const sw = document.createElement('div');
      sw.style.cssText = item.css + `;left:${item.markX}px;top:${item.y}px`;
      box.appendChild(sw);
    }
  });
  page.appendChild(box);
}

// --- flight track map ---
const mapDatasets = [
  { data: zip(lastLon, lastLat), pointStyle: starCanvas(24, '#1f77b4'), pointRadius: 12 },
  { data: zip(launchLon, launchLat), pointRadius: 8.5, backgroundColor: '#27ae60', borderColor: '#000', borderWidth: 1.4 },
  { data: zip(trackLon, trackLat), pointRadius: 2.8, backgroundColor: trackRed, borderWidth: 0 }
];
lakes.forEach(s => mapDatasets.push({
  data: outline(s), showLine: true, fill: 'shape', pointRadius: 0,
  backgroundColor: oceanColor, borderColor: coastColor, borderWidth: 0.6
}));
borders.forEach(s => mapDatasets.push({
  data: outline(s), showLine: true, fill: false, pointRadius: 0, borderColor: borderColor, borderWidth: 0.8
}));
landShapes.forEach(s => mapDatasets.push({
  data: outline(s), showLine: true, fill: 'shape', pointRadius: 0,
  backgroundColor: landColor, borderColor: coastColor, borderWidth: 0.9
}));

makePanel({ title: 'Flight Track', canvasLeft: 0, right: 785, padRight: 30, top: 31, bottom: 338, axisHeight: 47 }, {
  type: 'scatter',
  data: { datasets: mapDatasets },
  options: {
    plugins: { frame: { background: oceanColor } },
    scales: {
      x: xAxis({ min: -180, max: 180, ticks: lonTicks, height: 47, title: 'Longitude (deg)', gridColor: mapGrid, gridZ: 1, dash: [2, 2] }),
      y: yAxis({ min: -90, max: 90, ticks: latTicks, width: 83.5, title: 'Latitude (deg)', labelPad: 22, gridColor: mapGrid, gridZ: 1, dash: [2, 2] })
    }
  }
});
addLegend(89, 282, 81, 51, [
  { text: 'Track', textX: 35, y: 9, markX: 16, css: `width:5px;height:5px;border-radius:50%;background:${trackRed};margin-left:-2.5px` },
  { text: 'Launch', textX: 35, y: 25, markX: 16, css: 'width:14px;height:14px;border-radius:50%;background:#27ae60;border:1.4px solid #000;margin-left:-8.4px' },
  { text: 'Last fix', textX: 35, y: 40, markX: 16, marker: starCanvas(24, '#1f77b4') }
]);

// --- summary text ---
const infoLines = [
  ['Pico Balloon Archive', 51, 22.2, '#1a5276', 0],
  ['Callsign: AG6NS-11   (WSPR)', 73.5, 19.4, '#000', 0],
  ['2025-04-15 15:08:09  to  2025-05-31 17:54:14  UTC', 94.5, 15.2, '#000', 0],
  ['Time aloft: 46.1 days    Data points: 731', 118, 15.2, '#000', 0],
  ['Altitude: 11650 - 12962 m    (float 242 h)', 141, 15.2, '#000', 0],
  ['Latitude range: 23.68 to 43.97', 163.5, 15.2, '#000', 0],
  ['Path length: 97,561 km', 187, 15.2, '#000', 0],
  ['Position source: reported GPS    \u03c3(E,N) = 95, 58 m', 210, 15.2, '#000', 0],
  ['Median sampling gap: 4 min    Longest gap: 180.7 h', 233, 15.2, '#000', 0],
  ['Data quality score: 0.831', 256.5, 18, '#1a5276', 0],
  ['precision=0.96   cadence=1.00   agreement=1.00   stability=0.99   coverage=0.22', 277, 12.57, '#555', 4]
];
infoLines.forEach(line => {
  const el = document.createElement('div');
  el.className = 'info';
  el.textContent = line[0];
  el.style.top = line[1] + 'px';
  el.style.fontSize = line[2] + 'px';
  el.style.color = line[3];
  el.style.marginLeft = line[4] + 'px';
  page.appendChild(el);
});

// --- wind speed ---
makePanel({ title: 'Wind Speed vs. Time', canvasLeft: 0, right: 785, padRight: 30, top: 420, bottom: 727, axisHeight: 60 }, {
  type: 'scatter',
  data: {
    datasets: [
      { data: zip(meanDays, windMean), showLine: true, pointRadius: 0, borderColor: trackRed, borderWidth: 2.1, order: 0 },
      { data: pairs(windPoints, 1), pointRadius: 2.6, backgroundColor: darkDot, borderWidth: 0, order: 1 },
      { data: pairs(windBand, 1), showLine: true, fill: '+1', pointRadius: 0, borderWidth: 0, backgroundColor: bandFill, order: 2 },
      { data: pairs(windBand, 2), showLine: true, fill: false, pointRadius: 0, borderWidth: 0, order: 3 }
    ]
  },
  options: {
    scales: {
      x: xAxis({ min: -2.34, max: 49.09, ticks: dateTicks, labels: dateLabels, height: 60 }),
      y: yAxis({ min: 0, max: 83.3, ticks: windTicks, width: 83.5, title: 'Wind speed (m s\u207b\u00b9)', labelPad: 29 })
    }
  }
});
addLegend(618, 424, 160, 51, [
  { text: '\u00b11\u03c3 propagated error', textX: 34, y: 10, markX: 3, css: 'width:24px;height:8.5px;background:rgba(127,140,141,0.35)' },
  { text: 'Wind speed', textX: 34, y: 25, markX: 15, css: `width:5px;height:5px;border-radius:50%;background:${darkDot};margin-left:-2.5px` },
  { text: 'Daily mean', textX: 34, y: 41, markX: 3, css: `width:24px;height:2px;background:${trackRed}` }
]);

// --- latitude ---
makePanel({ title: 'Latitude vs. Time', canvasLeft: 790, right: 1568, padRight: 21, top: 420, bottom: 727, axisHeight: 60 }, {
  type: 'scatter',
  data: { datasets: [{ data: pairs(latPoints, 1), pointRadius: 2.6, backgroundColor: '#000', borderWidth: 0 }] },
  options: {
    scales: {
      x: xAxis({ min: -1.675, max: 49.05, ticks: dateTicks, labels: dateLabels, height: 60 }),
      y: yAxis({ min: -90, max: 90, ticks: latTicks, width: 75, title: 'Latitude (deg)', labelPad: 16.7 })
    }
  }
});

// --- altitude ---
makePanel({ title: 'Balloon Altitude vs. Time', canvasLeft: 0, right: 785, padRight: 30, top: 808, bottom: 1115, axisHeight: 67 }, {
  type: 'scatter',
  data: {
    datasets: [
      { data: zip(altMeanDays, altMean), showLine: true, pointRadius: 0, borderColor: trackRed, borderWidth: 2.1, order: 0 },
      { data: pairs(altPoints, 1), pointRadius: 2.2, backgroundColor: grayDot, borderWidth: 0, order: 1 }
    ]
  },
  options: {
    scales: {
      x: xAxis({ min: -2.34, max: 49.09, ticks: dateTicks, labels: dateLabels, height: 67, title: 'UTC date' }),
      y: yAxis({ min: 11670.5, max: 13008.7, ticks: altTicks, width: 83.5, title: 'Altitude (m AMSL)', labelPad: 7.7 })
    }
  }
});

// --- U and V histogram ---
makePanel({ title: 'U and V Wind Components', canvasLeft: 790, right: 1568, padRight: 21, top: 808, bottom: 1115, axisHeight: 49 }, {
  type: 'bar',
  data: {
    datasets: [
      { data: zip(histCenters, vCounts), backgroundColor: 'rgba(255,127,14,0.65)', borderColor: 'rgba(0,0,0,0.65)', borderWidth: 1.4, borderSkipped: false, order: 0 },
      { data: zip(histCenters, uCounts), backgroundColor: 'rgba(31,119,180,0.65)', borderColor: 'rgba(0,0,0,0.65)', borderWidth: 1.4, borderSkipped: false, order: 1 }
    ]
  },
  options: {
    datasets: { bar: { grouped: false, barPercentage: 1, categoryPercentage: 1 } },
    scales: {
      x: xAxis({ min: -100, max: 100, ticks: histXTicks, height: 49, title: 'Wind speed (m s\u207b\u00b9)' }),
      y: yAxis({ min: 0, max: 183.75, ticks: histYTicks, width: 75, title: 'Frequency', labelPad: 20.7 })
    }
  }
});
addLegend(1442, 813, 119, 35, [
  { text: 'U (zonal)', textX: 35, y: 9.5, markX: 4, css: 'box-sizing:border-box;width:23px;height:8px;background:rgba(31,119,180,0.65);border:1px solid rgba(0,0,0,0.7)' },
  { text: 'V (meridional)', textX: 35, y: 25, markX: 4, css: 'box-sizing:border-box;width:23px;height:8px;background:rgba(255,127,14,0.65);border:1px solid rgba(0,0,0,0.7)' }
]);
</script>
</body>
</html>
